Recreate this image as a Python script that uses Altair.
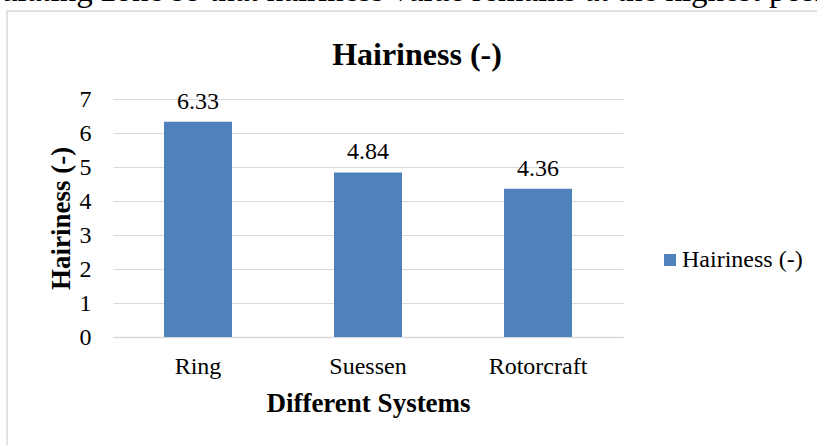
import altair as alt
import pandas as pd

# ---- data ----
systems = ["Ring", "Suessen", "Rotorcraft"]
hairiness = [6.33, 4.84, 4.36]
series_name = "Hairiness (-)"
y_ticks = [0, 1, 2, 3, 4, 5, 6, 7]
chart_title = "Hairiness (-)"
x_title = "Different Systems"
y_title = "Hairiness (-)"
page_text = "ulating zone so that hairiness value remains at the highest posit"

df = pd.DataFrame({
    "System": systems,
    "Hairiness": hairiness,
    "Series": [series_name] * len(systems),
})
one = pd.DataFrame({"k": [0]})

FONT = "Liberation Serif"
BLUE = "#4F81BD"
GRID = "#D9D9D9"
W, H = 510, 238
PL, PT = 113, 99
PR, PB = 817 - PL - W, 445 - PT - H

base = alt.Chart(df)

x_enc = alt.X(
    "System:N",
    sort=systems,
    scale=alt.Scale(paddingInner=0.6, paddingOuter=0.3),
    axis=alt.Axis(
        title=x_title, labelAngle=0, ticks=False, grid=False,
        domainColor=GRID, domainWidth=1.5,
        labelFont=FONT, labelFontSize=24, labelColor="#000000", labelPadding=17,
        titleFont=FONT, titleFontSize=27, titleFontWeight="bold", titleColor="#000000",
        titlePadding=12,
    ),
)
y_enc = alt.Y(
    "Hairiness:Q",
    scale=alt.Scale(domain=[0, 7], nice=False, zero=True),
    axis=alt.Axis(
        title=y_title, values=y_ticks, tickCount=8, format="d", ticks=False,
        domain=False, labelOverlap=False,
        grid=True, gridColor=GRID, gridWidth=1,
        labelFont=FONT, labelFontSize=24, labelColor="#000000", labelPadding=22,
        titleFont=FONT, titleFontSize=27, titleFontWeight="bold", titleColor="#000000",
        titlePadding=4,
    ),
)

bars = base.mark_bar().encode(
    x=x_enc,
    y=y_enc,
    color=alt.Color(
        "Series:N",
        scale=alt.Scale(range=[BLUE]),
        legend=alt.Legend(
            title=None, orient="none", legendX=545, legendY=149,
            symbolType="square", symbolSize=144, symbolStrokeWidth=0,
            labelFont=FONT, labelFontSize=24, labelColor="#000000",
            labelOffset=0, padding=0,
        ),
    ),
)

labels = base.mark_text(
    font=FONT, fontSize=24, color="#000000", baseline="alphabetic", dy=-13
).encode(
    x=x_enc,
    y=y_enc,
    text=alt.Text("Hairiness:Q", format=".2f"),
)

frame = alt.Chart(one).mark_rect(
    fill="transparent", stroke=GRID, strokeWidth=1.5
).encode(
    x=alt.value(7 - PL), y=alt.value(11 - PT),
    x2=alt.value(W + PR + 100), y2=alt.value(H + PB + 100),
)

page = alt.Chart(one).mark_text(
    font=FONT, fontSize=33, color="#000000", align="left", baseline="alphabetic"
).encode(
    x=alt.value(1 - PL), y=alt.value(1 - PT), text=alt.value(page_text),
)

title = alt.Chart(one).mark_text(
    font=FONT, fontSize=32, fontWeight="bold", color="#000000",
    align="center", baseline="alphabetic",
).encode(
    x=alt.value(417 - PL), y=alt.value(65 - PT), text=alt.value(chart_title),
)

chart = alt.layer(frame, bars, labels, title, page).properties(
    width=W,
    height=H,
    autosize=alt.AutoSizeParams(type="none"),
    padding={"left": PL, "top": PT, "right": PR, "bottom": PB},
    background="white",
).configure(font=FONT).configure_view(stroke=None)

chart.save("out.html", embed_options={"renderer": "svg", "actions": False})
